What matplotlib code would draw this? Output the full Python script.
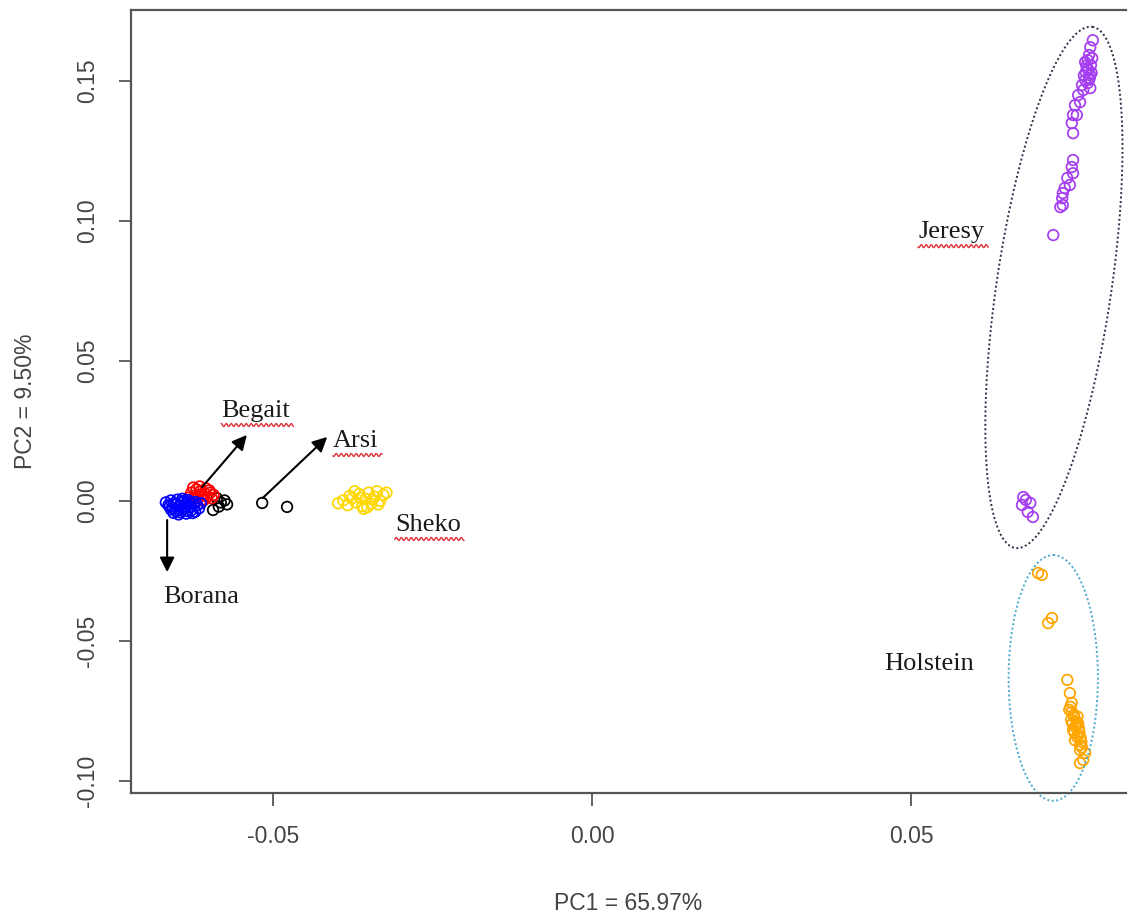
import numpy as np
import matplotlib
matplotlib.use("Agg")
import matplotlib.pyplot as plt
from matplotlib.lines import Line2D

# PCA scores (PC1, PC2)
borana_x = [-0.0668, -0.0664, -0.0660, -0.0657, -0.0655, -0.0652, -0.0650, -0.0647, -0.0645, -0.0643,
            -0.0640, -0.0638, -0.0636, -0.0633, -0.0630, -0.0628, -0.0625, -0.0622, -0.0619, -0.0616,
            -0.0613, -0.0660, -0.0648, -0.0637, -0.0626, -0.0642, -0.0651, -0.0631, -0.0656, -0.0644,
            -0.0634, -0.0621, -0.0662, -0.0639]
borana_y = [-0.0005, -0.0015, 0.0002, -0.0025, -0.0008, -0.0035, 0.0005, -0.0018, -0.0040, -0.0002,
            -0.0028, -0.0012, -0.0045, 0.0003, -0.0022, -0.0033, -0.0010, -0.0038, -0.0015, -0.0026,
            -0.0008, -0.0030, -0.0048, -0.0020, -0.0043, 0.0008, -0.0012, -0.0005, -0.0042, -0.0032,
            -0.0036, -0.0004, -0.0020, 0.0000]

begait_x = [-0.0633, -0.0628, -0.0624, -0.0620, -0.0617, -0.0614, -0.0611, -0.0607, -0.0603, -0.0600,
            -0.0596, -0.0593, -0.0625, -0.0615, -0.0605, -0.0619, -0.0609, -0.0598, -0.0612, -0.0622]
begait_y = [0.0012, 0.0030, 0.0008, 0.0042, 0.0018, 0.0035, 0.0005, 0.0028, 0.0015, 0.0038,
            0.0010, 0.0022, 0.0048, 0.0052, 0.0045, 0.0000, 0.0002, 0.0030, 0.0022, 0.0020]

arsi_x = [-0.0594, -0.0588, -0.0582, -0.0576, -0.0572, -0.0585, -0.0517, -0.0478]
arsi_y = [-0.0032, 0.0010, -0.0005, 0.0002, -0.0012, -0.0020, -0.0007, -0.0021]

sheko_x = [-0.0398, -0.0390, -0.0383, -0.0376, -0.0370, -0.0365, -0.0360, -0.0355, -0.0350, -0.0346, -0.0341,
           -0.0337, -0.0332, -0.0327, -0.0322, -0.0372, -0.0358, -0.0344, -0.0380, -0.0352, -0.0335, -0.0363]
sheko_y = [-0.0008, 0.0002, -0.0015, 0.0010, -0.0005, 0.0025, -0.0018, 0.0008, 0.0030, -0.0010, 0.0015,
           0.0035, 0.0000, 0.0022, 0.0030, 0.0035, -0.0028, 0.0005, 0.0018, -0.0022, -0.0012, 0.0012]

jersey_x = [0.0781, 0.0785, 0.0777, 0.0776, 0.0781, 0.0773, 0.0768, 0.0770, 0.0762, 0.0765, 0.0757,
            0.0754, 0.0760, 0.0752, 0.0754, 0.0754, 0.0752, 0.0754, 0.0745, 0.0749, 0.0741, 0.0738,
            0.0737, 0.0734, 0.0738, 0.0723, 0.0779, 0.0782, 0.0774, 0.0784, 0.0777, 0.0773, 0.0781,
            0.0778, 0.0780, 0.0775, 0.0783, 0.0779, 0.0771,
            0.0676, 0.0687, 0.0674, 0.0691, 0.0683, 0.0680]
jersey_y = [0.1621, 0.1646, 0.1575, 0.1546, 0.1521, 0.1504, 0.1486, 0.1468, 0.1450, 0.1425, 0.1414,
            0.1379, 0.1379, 0.1350, 0.1314, 0.1218, 0.1193, 0.1171, 0.1154, 0.1129, 0.1118, 0.1100,
            0.1082, 0.1050, 0.1057, 0.0950, 0.1593, 0.1557, 0.1532, 0.1582, 0.1493, 0.1568, 0.1475,
            0.1540, 0.1510, 0.1555, 0.1530, 0.1505, 0.1520,
            0.0014, -0.0007, -0.0014, -0.0057, -0.0039, 0.0004]

holstein_x = [0.0705, 0.0699, 0.0721, 0.0715, 0.0745, 0.0749, 0.0752, 0.0748, 0.0755, 0.0751, 0.0759,
              0.0754, 0.0762, 0.0757, 0.0765, 0.0760, 0.0752, 0.0763, 0.0766, 0.0765, 0.0773, 0.0770, 0.0765,
              0.0750, 0.0756, 0.0753, 0.0761, 0.0758, 0.0764, 0.0760, 0.0767, 0.0756, 0.0762, 0.0768]
holstein_y = [-0.0264, -0.0257, -0.0418, -0.0436, -0.0639, -0.0686, -0.0721, -0.0746, -0.0764, -0.0782, -0.0800,
              -0.0818, -0.0836, -0.0854, -0.0871, -0.0789, -0.0754, -0.0811, -0.0846, -0.0889, -0.0900, -0.0925, -0.0936,
              -0.0735, -0.0772, -0.0795, -0.0770, -0.0808, -0.0825, -0.0842, -0.0860, -0.0826, -0.0795, -0.0880]

# group labels, position (data), red spell-check underline or not
labels = ["Begait", "Arsi", "Sheko", "Borana", "Jeresy", "Holstein"]
label_x = [-0.0581, -0.0406, -0.0309, -0.0672, 0.0511, 0.0458]
label_y = [0.0300, 0.0193, -0.0107, -0.0364, 0.0939, -0.0604]
label_wavy = [True, True, True, False, True, False]

# arrows: tail -> head
arrow_tail = [(-0.0611, 0.0050), (-0.0516, 0.0011), (-0.0666, -0.0068)]
arrow_head = [(-0.0541, 0.0236), (-0.0415, 0.0229), (-0.0666, -0.0254)]

# ellipses: centre, half height (PC2 units), half width (PC1 units), tilt (deg, on screen)
ell_cx = [0.0724, 0.0723]
ell_cy = [0.0763, -0.0632]
ell_a = [0.0941, 0.0439]
ell_b = [0.0090, 0.0070]
ell_tilt = [8.4, 0.0]
ell_col = ["#2e2e48", "#4aa8cf"]

fig = plt.figure(figsize=(11.28, 9.21), dpi=100)
ax = fig.add_axes([131 / 1128, 1 - 793 / 921, (1126 - 131) / 1128, (793 - 10) / 921])
ax.set_xlim(-0.07226, 0.0837)
ax.set_ylim(-0.1043, 0.1754)

grey = "#555555"
kw = dict(facecolors="none", s=58, linewidths=1.25)
ax.scatter(arsi_x, arsi_y, edgecolors="black", **kw)
ax.scatter(begait_x, begait_y, edgecolors="red", **kw)
ax.scatter(borana_x, borana_y, edgecolors="blue", **kw)
ax.scatter(sheko_x, sheko_y, edgecolors="#ffd700", **kw)
ax.scatter(jersey_x, jersey_y, edgecolors="#a43ef0", **kw)
ax.scatter(holstein_x, holstein_y, edgecolors="#ffa500", **kw)

# pixels per data unit, so the tilt is the one seen on screen
pos = ax.get_position()
px_x = pos.width * 1128 / (0.0837 + 0.07226)
px_y = pos.height * 921 / (0.1754 + 0.1043)
t = np.linspace(0, 2 * np.pi, 300)
for i in range(len(ell_cx)):
    th = np.radians(ell_tilt[i])
    a_px = ell_a[i] * px_y
    b_px = ell_b[i] * px_x
    dx = a_px * np.sin(th) * np.cos(t) + b_px * np.cos(th) * np.sin(t)
    dy = a_px * np.cos(th) * np.cos(t) - b_px * np.sin(th) * np.sin(t)
    ax.plot(ell_cx[i] + dx / px_x, ell_cy[i] + dy / px_y, color=ell_col[i],
            linestyle=(0, (1, 1.3)), lw=1.4, clip_on=False)

for tail, head in zip(arrow_tail, arrow_head):
    ax.annotate("", xy=head, xytext=tail,
                arrowprops=dict(arrowstyle="-|>", color="black", lw=1.5,
                                mutation_scale=22, shrinkA=0, shrinkB=0))

texts = []
for name, x, y in zip(labels, label_x, label_y):
    texts.append(ax.text(x, y, name, family="Liberation Serif", fontsize=19,
                         color="#1a1a1a", va="baseline", ha="left"))

# axes styling, R base graphics look
for side in ["left", "bottom", "top"]:
    ax.spines[side].set_color(grey)
    ax.spines[side].set_linewidth(1.6)
ax.spines["right"].set_visible(False)
ax.set_xticks([-0.05, 0.00, 0.05])
ax.set_yticks([-0.10, -0.05, 0.00, 0.05, 0.10, 0.15])
ax.set_xticklabels(["-0.05", "0.00", "0.05"])
ax.set_yticklabels(["-0.10", "-0.05", "0.00", "0.05", "0.10", "0.15"], rotation=90, va="center")
ax.tick_params(direction="out", length=9, width=1.3, color=grey, labelcolor="#444444",
               labelsize=16.5, pad=14)
for lab in ax.get_xticklabels() + ax.get_yticklabels():
    lab.set_family("Liberation Sans")
ax.set_xlabel("PC1 = 65.97%", family="Liberation Sans", fontsize=16.5, color="#444444", labelpad=32)
ax.set_ylabel("PC2 = 9.50%", family="Liberation Sans", fontsize=16.5, color="#444444", labelpad=28)

# red spell-check squiggles under some labels
fig.canvas.draw()
r = fig.canvas.get_renderer()
for txt, wavy in zip(texts, label_wavy):
    if not wavy:
        continue
    bb = txt.get_window_extent(r)
    xs = np.arange(bb.x0, bb.x1 + 4, 1.0)
    base = txt.get_transform().transform(txt.get_position())[1]
    ys = base - 8 + 1.6 * np.sin(xs * 2 * np.pi / 5.0)
    fig.add_artist(Line2D(xs / 1128, ys / 921, color="#e0303a", lw=1.0, transform=fig.transFigure))

fig.savefig("out.png", dpi=100)
